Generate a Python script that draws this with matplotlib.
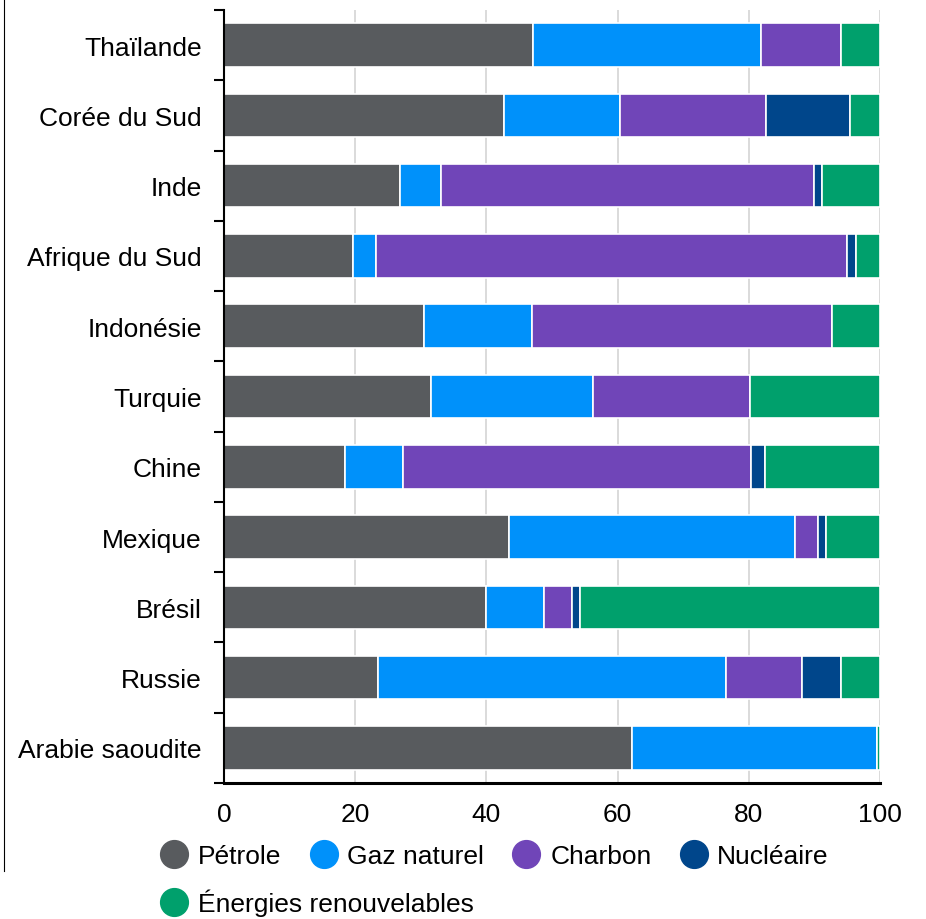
import matplotlib

matplotlib.use("Agg")
import matplotlib.pyplot as plt
from matplotlib.lines import Line2D
import numpy as np

plt.rcParams["font.family"] = ["Liberation Sans", "DejaVu Sans"]

# Energy mix shares (%), top to bottom as displayed.
countries = ["Thaïlande", "Corée du Sud", "Inde", "Afrique du Sud", "Indonésie",
             "Turquie", "Chine", "Mexique", "Brésil", "Russie", "Arabie saoudite"]
petrole = [47.1, 42.7, 26.8, 19.6, 30.5, 31.6, 18.4, 43.5, 40.0, 23.5, 62.2]
gaz_naturel = [34.7, 17.7, 6.3, 3.5, 16.5, 24.6, 8.9, 43.6, 8.8, 53.1, 37.4]
charbon = [12.2, 22.2, 56.9, 71.9, 45.7, 24.0, 53.0, 3.4, 4.2, 11.5, 0.0]
nucleaire = [0.0, 12.9, 1.2, 1.4, 0.0, 0.0, 2.2, 1.3, 1.2, 6.0, 0.0]
renouvelables = [6.0, 4.5, 8.8, 3.6, 7.3, 19.8, 17.5, 8.2, 45.8, 5.9, 0.4]

series = [
    ("Pétrole", petrole, "#585b5e"),
    ("Gaz naturel", gaz_naturel, "#0091fa"),
    ("Charbon", charbon, "#7045b8"),
    ("Nucléaire", nucleaire, "#00468b"),
    ("Énergies renouvelables", renouvelables, "#00a06c"),
]

FS = 19

fig = plt.figure(figsize=(9.26, 9.2), dpi=100)
ax = fig.add_axes([224 / 926, 1 - 784 / 920, 656 / 926, 773 / 920])

y = np.arange(len(countries))
left = np.zeros(len(countries))
for label, vals, color in series:
    vals = np.array(vals)
    ax.barh(y, vals, left=left, height=0.62, color=color, edgecolor="white",
            linewidth=1.2, label=label, zorder=2)
    left += vals

ax.set_xlim(0, 100)
ax.set_ylim(len(countries) - 0.5, -0.5)
ax.set_yticks(y)
ax.set_yticklabels(countries, fontsize=FS)
ax.set_yticks(np.arange(len(countries) + 1) - 0.5, minor=True)
ax.tick_params(axis="y", which="major", length=0, pad=16)
ax.tick_params(axis="y", which="minor", length=7, width=1.5, color="black")
ax.set_xticks([0, 20, 40, 60, 80, 100])
ax.tick_params(axis="x", length=0, labelsize=FS, pad=14)
ax.grid(axis="x", color="#d4d4d4", linewidth=1.2, zorder=0)
for side in ("top", "right"):
    ax.spines[side].set_visible(False)
ax.spines["left"].set_linewidth(1.5)
ax.spines["bottom"].set_linewidth(2.2)

# thin rule on the far left edge
fig.add_artist(Line2D([4 / 926, 4 / 926], [1 - 872 / 920, 1.0], color="black", linewidth=0.8))


def handle(color):
    return Line2D([], [], marker="o", linestyle="none", markersize=20,
                  markerfacecolor=color, markeredgecolor=color)


legend_kw = dict(frameon=False, fontsize=FS, handletextpad=0.4, handlelength=1.0,
                 columnspacing=1.1, borderpad=0, borderaxespad=0)
first = series[:4]
fig.legend([handle(c) for _, _, c in first], [l for l, _, _ in first],
           loc="center left", bbox_to_anchor=(161 / 926, 1 - 857 / 920),
           ncol=4, **legend_kw)
label5, _, color5 = series[4]
fig.legend([handle(color5)], [label5], loc="center left",
           bbox_to_anchor=(161 / 926, 1 - 903 / 920), **legend_kw)

fig.savefig("out.png", dpi=100)
plt.close(fig)
